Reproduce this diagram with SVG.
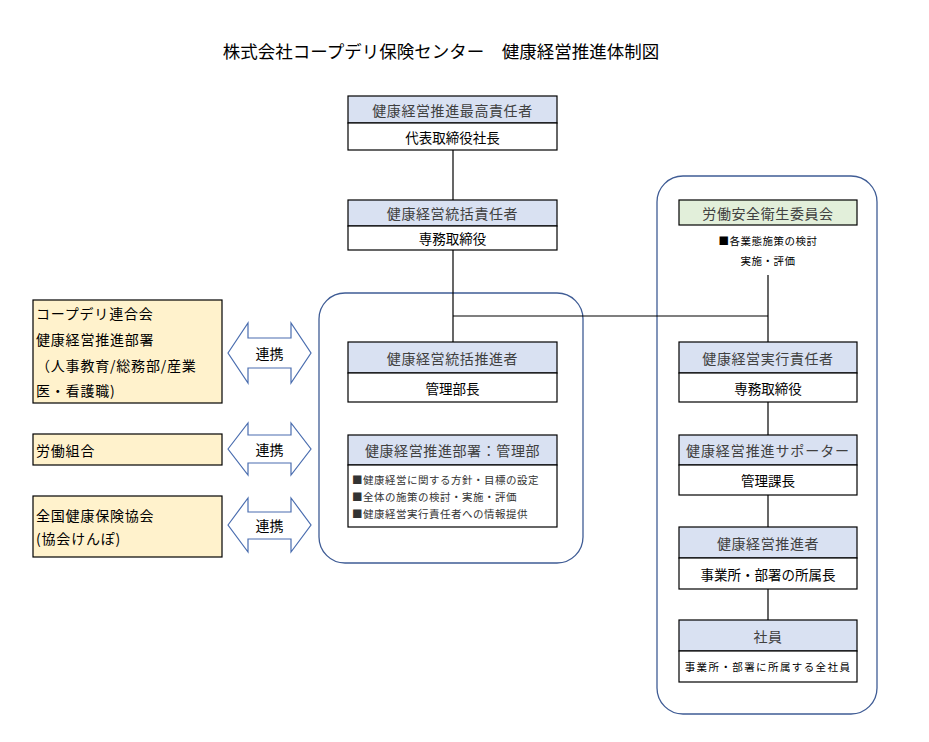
<svg xmlns="http://www.w3.org/2000/svg" width="929" height="742" viewBox="0 0 929 742">
<style>
text { font-family: "Noto Sans CJK JP", "Noto Sans", sans-serif; dominant-baseline: central; }
.box { fill: #ffffff; stroke: #000000; stroke-width: 1.2; }
.hdr { fill: #D9E1F2; stroke: #000000; stroke-width: 1.2; }
.grn { fill: #E2EFDA; stroke: #000000; stroke-width: 1.2; }
.ylw { fill: #FFF2CC; stroke: #000000; stroke-width: 1.2; }
.cont { fill: none; stroke: #3F5C95; stroke-width: 1.3; }
.arr { fill: #ffffff; stroke: #4A6DAF; stroke-width: 1.2; }
.ht { font-size: 14px; fill: #404040; text-anchor: middle; letter-spacing: 0.6px; }
.bt { font-size: 13.5px; fill: #000000; text-anchor: middle; }
.sm { font-size: 10.5px; fill: #333333; letter-spacing: 0.5px; }
.lt { font-size: 14px; fill: #000000; letter-spacing: 0.8px; }
.ct { font-size: 14px; fill: #000000; text-anchor: middle; }
.ln { stroke: #000000; stroke-width: 1.2; fill: none; }
</style>

<text x="441" y="50" style="font-size:17.5px; text-anchor:middle; fill:#000">株式会社コープデリ保険センター　健康経営推進体制図</text>

<g id="containers">
  <rect class="cont" x="319" y="293" width="264" height="270" rx="26"/>
  <rect class="cont" x="657" y="176" width="220" height="538" rx="26"/>
</g>

<g id="connectors">
  <line class="ln" x1="453" y1="150" x2="453" y2="200"/>
  <line class="ln" x1="453" y1="250" x2="453" y2="342"/>
  <line class="ln" x1="453" y1="316" x2="768" y2="316"/>
  <line class="ln" x1="768" y1="275" x2="768" y2="342"/>
  <line class="ln" x1="768" y1="402" x2="768" y2="435"/>
  <line class="ln" x1="768" y1="495" x2="768" y2="527"/>
  <line class="ln" x1="768" y1="589" x2="768" y2="620"/>
</g>

<g id="n-top">
  <rect class="hdr" x="348" y="96" width="209" height="27"/>
  <rect class="box" x="348" y="123" width="209" height="27"/>
  <text class="ht" x="452.5" y="109.5">健康経営推進最高責任者</text>
  <text class="bt" x="452.5" y="136.5">代表取締役社長</text>
</g>

<g id="n-toukatsu">
  <rect class="hdr" x="348" y="200" width="209" height="26"/>
  <rect class="box" x="348" y="226" width="209" height="24"/>
  <text class="ht" x="452.5" y="213">健康経営統括責任者</text>
  <text class="bt" x="452.5" y="238">専務取締役</text>
</g>

<g id="n-suishinsha">
  <rect class="hdr" x="348" y="342" width="209" height="31"/>
  <rect class="box" x="348" y="373" width="209" height="29"/>
  <text class="ht" x="452.5" y="357.5">健康経営統括推進者</text>
  <text class="bt" x="452.5" y="387.5">管理部長</text>
</g>

<g id="n-kanribu">
  <rect class="hdr" x="348" y="435" width="209" height="30"/>
  <rect class="box" x="348" y="465" width="209" height="62"/>
  <text class="ht" x="452.5" y="450">健康経営推進部署：管理部</text>
  <text class="sm" x="352" y="479">■健康経営に関する方針・目標の設定</text>
  <text class="sm" x="352" y="496">■全体の施策の検討・実施・評価</text>
  <text class="sm" x="352" y="513">■健康経営実行責任者への情報提供</text>
</g>

<g id="n-iinkai">
  <rect class="grn" x="679" y="200" width="178" height="25"/>
  <text class="ht" x="768" y="212.5">労働安全衛生委員会</text>
  <text class="sm" x="768" y="240" style="text-anchor:middle; fill:#000">■各業態施策の検討</text>
  <text class="sm" x="768" y="260" style="text-anchor:middle; fill:#000">実施・評価</text>
</g>

<g id="n-jikkou">
  <rect class="hdr" x="679" y="342" width="178" height="31"/>
  <rect class="box" x="679" y="373" width="178" height="29"/>
  <text class="ht" x="768" y="357.5">健康経営実行責任者</text>
  <text class="bt" x="768" y="387.5">専務取締役</text>
</g>

<g id="n-supporter">
  <rect class="hdr" x="679" y="435" width="178" height="30"/>
  <rect class="box" x="679" y="465" width="178" height="30"/>
  <text class="ht" x="768" y="450" style="letter-spacing:0.9px">健康経営推進サポーター</text>
  <text class="bt" x="768" y="480">管理課長</text>
</g>

<g id="n-suishin">
  <rect class="hdr" x="679" y="527" width="178" height="31"/>
  <rect class="box" x="679" y="558" width="178" height="31"/>
  <text class="ht" x="768" y="542.5">健康経営推進者</text>
  <text class="bt" x="768" y="573.5">事業所・部署の所属長</text>
</g>

<g id="n-shain">
  <rect class="hdr" x="679" y="620" width="178" height="31"/>
  <rect class="box" x="679" y="651" width="178" height="31"/>
  <text class="ht" x="768" y="635.5">社員</text>
  <text class="sm" x="768" y="666.5" style="text-anchor:middle; fill:#000; letter-spacing:1.4px">事業所・部署に所属する全社員</text>
</g>

<g id="n-coopdeli">
  <rect class="ylw" x="33" y="300" width="189" height="103"/>
  <text class="lt" x="36" y="313">コープデリ連合会</text>
  <text class="lt" x="36" y="339">健康経営推進部署</text>
  <text class="lt" x="36" y="365">（人事教育/総務部/産業</text>
  <text class="lt" x="36" y="390">医・看護職)</text>
</g>

<g id="n-kumiai">
  <rect class="ylw" x="33" y="434" width="189" height="31"/>
  <text class="lt" x="36" y="450">労働組合</text>
</g>

<g id="n-kyoukai">
  <rect class="ylw" x="33" y="496" width="189" height="61"/>
  <text class="lt" x="36" y="515">全国健康保険協会</text>
  <text class="lt" x="36" y="538">(協会けんぽ)</text>
</g>

<g id="arrows">
  <path class="arr" d="M228,353 L248,323 L248,338 L291,338 L291,323 L311,353 L291,383 L291,368 L248,368 L248,383 Z"/>
  <text class="ct" x="269.5" y="353">連携</text>
  <path class="arr" d="M228,449 L248,423 L248,435 L291,435 L291,423 L311,449 L291,475 L291,463 L248,463 L248,475 Z"/>
  <text class="ct" x="269.5" y="449">連携</text>
  <path class="arr" d="M228,525 L248,498 L248,512 L291,512 L291,498 L311,525 L291,552 L291,539 L248,539 L248,552 Z"/>
  <text class="ct" x="269.5" y="525">連携</text>
</g>
</svg>
